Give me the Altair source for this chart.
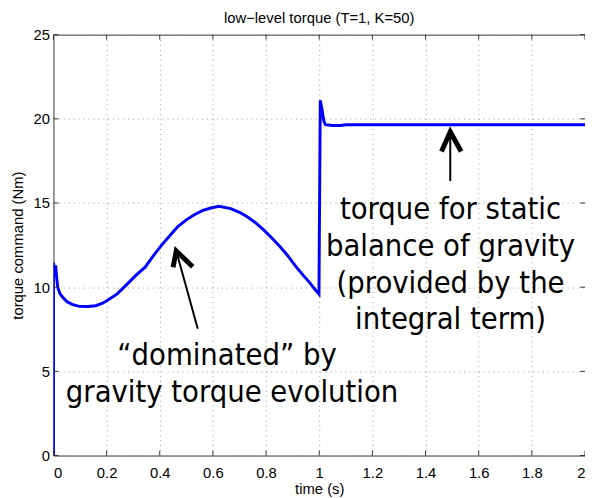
import altair as alt
import pandas as pd

# ---- data ----
time_s = [0, 0, 0.004, 0.008, 0.012, 0.016, 0.025, 0.035, 0.05, 0.07, 0.097, 0.13, 0.159,
          0.185, 0.208, 0.24, 0.283, 0.31, 0.345, 0.375, 0.407, 0.44, 0.468, 0.50, 0.53,
          0.56, 0.592, 0.623, 0.667, 0.70, 0.729, 0.76, 0.791, 0.82, 0.852, 0.88, 0.914,
          0.94, 0.964, 0.985, 0.999, 1.004, 1.01, 1.017, 1.023, 1.05, 1.08, 1.1, 1.3, 1.6, 2.0]
torque = [0, 11.45, 11.0, 11.3, 10.6, 10.0, 9.6, 9.4, 9.15, 8.98, 8.86, 8.85, 8.9,
          9.05, 9.27, 9.6, 10.27, 10.7, 11.19, 11.85, 12.5, 13.1, 13.6, 14.0, 14.3,
          14.55, 14.7, 14.8, 14.67, 14.45, 14.18, 13.83, 13.4, 12.95, 12.42, 11.9, 11.19,
          10.7, 10.27, 9.85, 9.59, 21.1, 20.6, 19.9, 19.65, 19.6, 19.6, 19.65, 19.65, 19.65, 19.65]

x_ticks = [0, 0.2, 0.4, 0.6, 0.8, 1.0, 1.2, 1.4, 1.6, 1.8, 2.0]
y_ticks = [0, 5, 10, 15, 20, 25]

note_left = ["\u201cdominated\u201d by", "gravity torque evolution"]
note_left_t = [0.653, 0.672]
note_left_v = [5.91, 3.68]
note_right = ["torque for static", "balance of gravity", "(provided by the", "integral term)"]
note_right_t = [1.494, 1.494, 1.494, 1.494]
note_right_v = [14.59, 12.39, 10.19, 8.02]

# arrows: shaft (tail -> tip) and chevron head (arm, tip, arm)
shaft_t = [0.543, 1.493]
shaft_v = [7.53, 16.3]
shaft_t2 = [0.462, 1.493]
shaft_v2 = [12.15, 19.23]
head_id = ["a", "a", "a", "b", "b", "b"]
head_t = [0.450, 0.462, 0.524, 1.460, 1.493, 1.534]
head_v = [11.19, 12.15, 11.21, 18.06, 19.23, 18.06]

W, H = 538, 426
FONT = "Liberation Sans, Arial, Helvetica, sans-serif"
NOTE_FONT = "DejaVu Sans Condensed, DejaVu Sans, sans-serif"

xs = alt.Scale(domain=[0, 2], nice=False, zero=False)
ys = alt.Scale(domain=[0, 25], nice=False, zero=False)
x_axis = alt.Axis(values=x_ticks, format="~g", title="time (s)",
                  grid=True, labelPadding=10, titleY=26)
y_axis = alt.Axis(values=y_ticks, title="torque command (Nm)",
                  grid=True, labelPadding=4, titleX=-28)


def X(field):
    return alt.X(field, scale=xs, axis=x_axis)


def Y(field):
    return alt.Y(field, scale=ys, axis=y_axis)


line_df = pd.DataFrame({"t": time_s, "v": torque, "i": list(range(len(time_s)))})

line = alt.Chart(line_df).mark_line(color="#0000ff", strokeWidth=3, clip=True).encode(
    x=X("t:Q"), y=Y("v:Q"), order="i:Q")

xt_df = pd.DataFrame({"t": x_ticks})
yt_df = pd.DataFrame({"v": y_ticks})
tick_col = "#333333"
xt_bottom = alt.Chart(xt_df).mark_rule(color=tick_col).encode(
    x=X("t:Q"), y=alt.value(H), y2=alt.value(H - 5))
xt_top = alt.Chart(xt_df).mark_rule(color=tick_col).encode(
    x=X("t:Q"), y=alt.value(0), y2=alt.value(5))
yt_left = alt.Chart(yt_df).mark_rule(color=tick_col).encode(
    y=Y("v:Q"), x=alt.value(0), x2=alt.value(5))
yt_right = alt.Chart(yt_df).mark_rule(color=tick_col).encode(
    y=Y("v:Q"), x=alt.value(W - 5), x2=alt.value(W))

notes_df = pd.DataFrame({"txt": note_left + note_right,
                         "t": note_left_t + note_right_t,
                         "v": note_left_v + note_right_v})
notes = alt.Chart(notes_df).mark_text(font=NOTE_FONT, fontSize=31, color="black",
                                      align="center", baseline="middle").encode(
    x=X("t:Q"), y=Y("v:Q"), text="txt:N")

shaft_df = pd.DataFrame({"t": shaft_t, "v": shaft_v, "t2": shaft_t2, "v2": shaft_v2})
shafts = alt.Chart(shaft_df).mark_rule(color="black", strokeWidth=2).encode(
    x=X("t:Q"), y=Y("v:Q"), x2="t2:Q", y2="v2:Q")

head_df = pd.DataFrame({"id": head_id, "t": head_t, "v": head_v, "k": list(range(len(head_t)))})
heads = alt.Chart(head_df).mark_line(color="black", strokeWidth=5, strokeJoin="miter",
                                     strokeCap="butt").encode(
    x=X("t:Q"), y=Y("v:Q"), detail="id:N", order="k:Q")

chart = alt.layer(line, xt_bottom, xt_top, yt_left, yt_right, shafts, heads, notes).properties(
    width=W, height=H,
    title=alt.TitleParams("low\u2212level torque (T=1, K=50)"),
    autosize=alt.AutoSizeParams(type="none"),
    padding={"left": 46, "top": 24, "right": 0, "bottom": 40},
).configure_view(stroke="#333333", strokeWidth=1).configure_axis(
    labelFont=FONT, labelFontSize=15, labelColor="black",
    titleFont=FONT, titleFontSize=15, titleFontWeight="normal", titleColor="black",
    tickSize=0, domain=False, gridColor="#9a9a9a", gridDash=[1, 4], gridOpacity=1, gridWidth=1,
).configure_title(font=FONT, fontSize=15, fontWeight="normal", color="black", offset=2)

chart.save("out.html", embed_options={"renderer": "svg", "actions": False})
